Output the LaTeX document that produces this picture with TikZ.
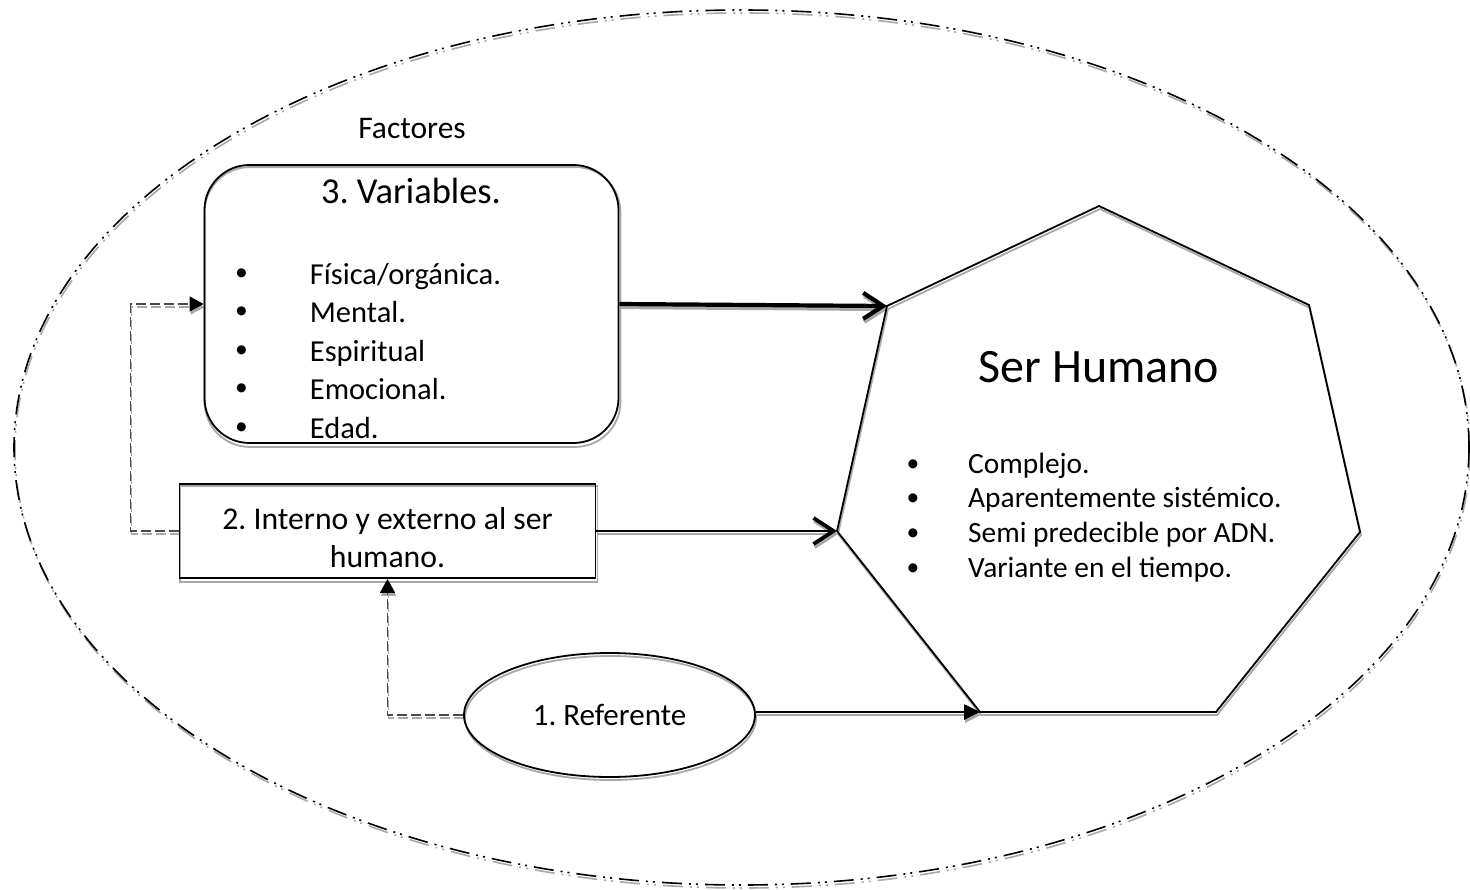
\documentclass[tikz,border=0pt]{standalone}
\usepackage{fontspec}
\setmainfont{Carlito}
\usetikzlibrary{arrows.meta,shapes.geometric}
\definecolor{shd}{HTML}{A8A8A8}
\definecolor{dashc}{HTML}{4A4A4A}
\pgfdeclarelayer{bg}
\pgfsetlayers{bg,main}
\newcommand{\vbul}{\makebox[75.7pt][l]{\hspace{1pt}\raisebox{4pt}{\fontsize{25.5}{25}\selectfont •}}}
\newcommand{\sbul}{\makebox[63.2pt][l]{\hspace{1.5pt}\raisebox{2pt}{\fontsize{25.5}{25}\selectfont •}}}
\begin{document}
\frenchspacing
\begin{tikzpicture}[x=1pt,y=-1pt,
  outline/.style={draw=black,line width=1.8pt,inner sep=0pt},
  framestyle/.style={line width=1.6pt,dash pattern=on 20pt off 7pt on 2pt off 5pt on 2pt off 7pt},
  txt/.style={inner sep=0pt,anchor=base},
  listnode/.style={inner sep=0pt,anchor=base west},
  bigconn/.style={line width=4.2pt,-{Straight Barb[length=20pt,width=26pt,line width=4.2pt]}},
  midconn/.style={line width=2.8pt,-{Straight Barb[length=20pt,width=26pt,line width=3.8pt]}},
  triconn/.style={line width=2.6pt,-{Triangle[length=16pt,width=15pt]}},
  dashconn/.style={line width=1.6pt,dash pattern=on 10pt off 4pt},
  dashtip/.style={-{Triangle[length=14pt,width=15pt,color=#1]}},
  shadowed/.style={transform canvas={xshift=1pt,yshift=-3pt}}
]
\useasboundingbox (0,0) rectangle (1470,889);

% outer frame
\draw[framestyle,black] (741.5,447.5) ellipse [x radius=727.5, y radius=437.5];

% shapes
\node[outline,rounded corners=45pt,minimum width=414pt,minimum height=278pt] (var) at (411.5,304) {};
\node[outline,minimum width=416pt,minimum height=94pt] (box2) at (387.5,531) {};
\node[outline,ellipse,minimum width=291pt,minimum height=124pt] (ref) at (609.5,715) {};

\coordinate (h1) at (1099,206);
\coordinate (h2) at (1309,305);
\coordinate (h3) at (1360,532);
\coordinate (h4) at (1216,712);
\coordinate (h5) at (980,712);
\coordinate (h6) at (837,531);
\coordinate (h7) at (887,306);
\draw[line width=1.8pt,line join=miter] (h1) -- (h2) -- (h3) -- (h4) -- (h5) -- (h6) -- (h7) -- cycle;

% texts
\node[txt,font=\fontsize{31.5}{38}\selectfont] (fact) at (412,138) {Factores};
\node[txt,font=\fontsize{36.5}{44}\selectfont] (vt) at (411,203) {3. Variables.};
\node[listnode,font=\fontsize{30.5}{38.6}\selectfont] (vlist) at (234,284) {\begin{tabular}[t]{@{}l@{}}
\vbul Física/orgánica.\\
\vbul Mental.\\
\vbul Espiritual\\
\vbul Emocional.\\
\vbul Edad.
\end{tabular}};
\node[txt,font=\fontsize{48}{58}\selectfont] (st) at (1099,382) {Ser Humano};
\node[listnode,font=\fontsize{29.4}{34.7}\selectfont] (slist) at (904.8,473) {\begin{tabular}[t]{@{}l@{}}
\sbul Complejo.\\
\sbul Aparentemente sistémico.\\
\sbul Semi predecible por ADN.\\
\sbul Variante en el tiempo.
\end{tabular}};
\node[txt,font=\fontsize{31.7}{38}\selectfont] (t2) at (387.5,529) {\begin{tabular}[t]{@{}c@{}}2. Interno y externo al ser\\humano.\end{tabular}};
\node[txt,font=\fontsize{31}{38}\selectfont] (rt) at (609.5,725) {1. Referente};

% connectors
\draw[bigconn] (var.east) -- (h7);
\draw[midconn] (box2.east) -- (h6);
\draw[triconn] (ref.east |- h5) -- (h5);
\draw[dashconn,dashc,dashtip=black] (box2.west) -- ++(-48,0) |- (var.west);
\draw[dashconn,dashc,dashtip=black] (ref.west) -| (box2.south);

% shadows
\begin{pgfonlayer}{bg}
\begin{scope}[shadowed]
\draw[framestyle,shd] (741.5,447.5) ellipse [x radius=727.5, y radius=437.5];
\draw[shd,line width=1.8pt,rounded corners=45pt] (var.north west) rectangle (var.south east);
\draw[shd,line width=1.8pt] (box2.north west) rectangle (box2.south east);
\draw[shd,line width=1.8pt] (ref.center) ellipse [x radius=145.5, y radius=62];
\draw[shd,line width=1.8pt] (h1) -- (h2) -- (h3) -- (h4) -- (h5) -- (h6) -- (h7) -- cycle;
\draw[bigconn,shd] (var.east) -- (h7);
\draw[midconn,shd] (box2.east) -- (h6);
\draw[triconn,shd] (ref.east |- h5) -- (h5);
\draw[dashconn,shd,dashtip=shd] (box2.west) -- ++(-48,0) |- (var.west);
\draw[dashconn,shd,dashtip=shd] (ref.west) -| (box2.south);
\end{scope}
\end{pgfonlayer}
\end{tikzpicture}
\end{document}
